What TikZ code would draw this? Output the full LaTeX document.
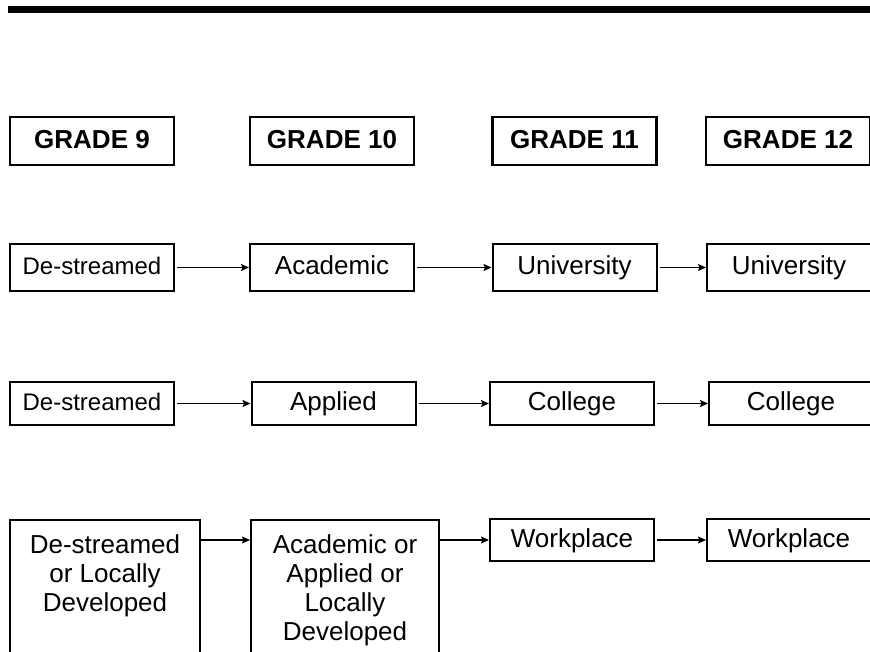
\documentclass[tikz,border=0pt]{standalone}
\usepackage{fontspec}
\setmainfont{Liberation Sans}
\usetikzlibrary{arrows.meta}
\begin{document}
\begin{tikzpicture}[x=1pt,y=-1pt,
  hdr/.style={draw, line width=2.2pt, inner sep=0pt, minimum width=164pt, minimum height=48pt,
    font=\bfseries\fontsize{26}{30}\selectfont, text height=19pt, text depth=5pt},
  cell/.style={draw, line width=2pt, inner sep=0pt, minimum width=164pt,
    font=\fontsize{26}{29}\selectfont, text height=19pt, text depth=5pt},
  smalltext/.style={font=\fontsize{24}{28}\selectfont},
  tall/.style={draw, line width=2pt, anchor=north, align=center, inner xsep=0pt, inner ysep=15pt,
    font=\fontsize{26}{29}\selectfont, text depth=200pt},
  arr/.style={line width=1.5pt, -{Stealth[length=8pt,width=7pt,inset=1.5pt]}, shorten <=2pt}]
\useasboundingbox (0,0) rectangle (870,651);
\clip (0,0) rectangle (870,651);
\fill (8,6) rectangle (875,13);
% headers
\node[hdr] (g9)  at (92,141)    {GRADE 9};
\node[hdr] (g10) at (332,141)   {GRADE 10};
\node[hdr] (g11) at (574.5,141) {GRADE 11};
\node[hdr] (g12) at (788,141)   {GRADE 12};
% row 1
\node[cell, smalltext, minimum height=47pt] (a1) at (92,267.5)    {De-streamed};
\node[cell, minimum height=47pt] (b1) at (332,267.5)   {Academic};
\node[cell, minimum height=47pt] (c1) at (574.5,267.5) {University};
\node[cell, minimum height=47pt] (d1) at (789,267.5)   {University};
% row 2
\node[cell, smalltext, minimum height=43pt] (a2) at (92,403.5)    {De-streamed};
\node[cell, minimum height=43pt] (b2) at (333.5,403.5) {Applied};
\node[cell, minimum height=43pt] (c2) at (572,403.5)   {College};
\node[cell, minimum height=43pt] (d2) at (791,403.5)   {College};
% row 3
\node[tall, minimum width=190pt] (a3) at (105,519) {De-streamed\\or Locally\\Developed};
\node[tall, minimum width=188pt] (b3) at (345,519) {Academic or\\Applied or\\Locally\\Developed};
\node[cell, minimum height=42pt] (c3) at (572,540) {Workplace};
\node[cell, minimum height=42pt] (d3) at (789,540) {Workplace};
% arrows
\draw[arr] (a1.east) -- (b1.west);
\draw[arr] (b1.east) -- (c1.west);
\draw[arr] (c1.east) -- (d1.west);
\draw[arr] (a2.east) -- (b2.west);
\draw[arr] (b2.east) -- (c2.west);
\draw[arr] (c2.east) -- (d2.west);
\draw[arr, shorten <=0pt] (a3.east |- c3.west) -- (b3.west |- c3.west);
\draw[arr, shorten <=0pt] (b3.east |- c3.west) -- (c3.west);
\draw[arr] (c3.east) -- (d3.west);
\end{tikzpicture}
\end{document}
